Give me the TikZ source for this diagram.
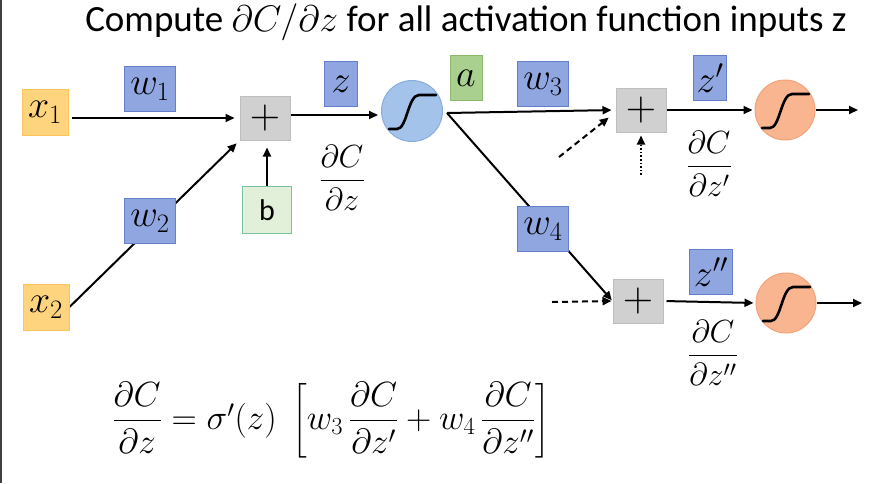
\RequirePackage{fix-cm}
\documentclass[tikz,border=0pt]{standalone}
\usepackage{amsmath}
\usepackage[no-math]{fontspec}
\setmainfont{Carlito}
\usetikzlibrary{arrows.meta,calc,backgrounds}
\definecolor{xfill}{RGB}{255,212,126}
\definecolor{xdraw}{RGB}{252,196,90}
\definecolor{wfill}{RGB}{143,166,224}
\definecolor{wdraw}{RGB}{100,128,205}
\definecolor{pfill}{RGB}{208,208,208}
\definecolor{pdraw}{RGB}{190,190,190}
\definecolor{bfill}{RGB}{226,240,217}
\definecolor{bdraw}{RGB}{120,196,156}
\definecolor{afill}{RGB}{169,208,142}
\definecolor{adraw}{RGB}{140,184,110}
\definecolor{sbfill}{RGB}{164,195,234}
\definecolor{sbdraw}{RGB}{135,172,222}
\definecolor{sofill}{RGB}{249,180,144}
\definecolor{sodraw}{RGB}{244,163,120}
\tikzset{
  mathbig/.style={font=\fontsize{38}{40}\selectfont},
  xbox/.style={draw=xdraw, fill=xfill, line width=1pt, minimum width=46pt, minimum height=46pt, inner sep=0pt, mathbig},
  wbox/.style={draw=wdraw, fill=wfill, line width=1pt, minimum width=51pt, minimum height=45pt, inner sep=0pt, mathbig},
  zbox/.style={draw=wdraw, fill=wfill, line width=1pt, minimum width=33pt, minimum height=45pt, inner sep=0pt, mathbig},
  plusbox/.style={draw=pdraw, fill=pfill, line width=1pt, minimum width=50pt, minimum height=44pt, inner sep=0pt, font=\fontsize{42}{44}\selectfont},
  bbox/.style={draw=bdraw, fill=bfill, line width=1pt, minimum width=49pt, minimum height=47pt, inner sep=0pt, font=\fontsize{30}{32}\selectfont},
  abox/.style={draw=adraw, fill=afill, line width=1pt, minimum width=32pt, minimum height=45pt, inner sep=0pt, mathbig},
  sigblue/.style={circle, draw=sbdraw, fill=sbfill, line width=1pt, minimum size=61pt, inner sep=0pt},
  sigorange/.style={circle, draw=sodraw, fill=sofill, line width=1pt, minimum size=60pt, inner sep=0pt},
  frac/.style={font=\fontsize{32}{36}\selectfont, inner sep=0pt},
  arr/.style={-{Triangle[length=9pt,width=8pt]}, line width=2pt},
  dash6/.style={dash pattern=on 6pt off 4pt},
  dot2/.style={line width=1.8pt, dash pattern=on 1.6pt off 2pt},
  sigline/.style={line width=2.6pt, line cap=round},
  pics/sigm/.style={code={
    \draw[sigline] (-23,18) -- (-15,18) .. controls (-5,18) and (-4,-16) .. (7,-16) -- (24,-16);
  }}
}
\begin{document}
\begin{tikzpicture}[x=1pt,y=-1pt]
\useasboundingbox (0,0) rectangle (879,483);
\fill[black!75] (0,0) rectangle (2,483);
% title
\node[font=\fontsize{37}{40}\selectfont, anchor=base, inner sep=0pt] (title) at (466,31) {Compute $\partial C/\partial z$ for all activation function inputs z};
% left layer
\node[xbox] (x1) at (45,112) {$x_1$};
\node[xbox] (x2) at (46,307) {$x_2$};
\node[wbox] (w1) at (150,89) {$w_1$};
\node[wbox] (w2) at (150,221) {$w_2$};
\node[plusbox] (p1) at (265,118) {$+$};
\node[bbox] (b) at (267,210) {b};
\node[zbox] (z) at (341,84) {$z$};
\node[frac] (f1) at (342,178) {$\dfrac{\partial C}{\partial z}$};
\node[sigblue] (s1) at (412,111) {};
\pic at (s1.center) {sigm};
\coordinate (o) at (447,113);
\node[abox] (a) at (466,78) {$a$};
% upper right
\node[wbox] (w3) at (543,84) {$w_3$};
\node[plusbox] (p2) at (641,110) {$+$};
\node[zbox] (z1) at (710,78) {$z'$};
\node[frac] (f2) at (709,164) {$\dfrac{\partial C}{\partial z'}$};
\node[sigorange] (s2) at (785,110) {};
\pic at (s2.center) {sigm};
\coordinate (e2) at (858,110);
\coordinate (d2) at (559,157);
\coordinate (d3) at (641,175);
% lower right
\node[wbox] (w4) at (543,229) {$w_4$};
\node[plusbox] (p3) at (638,301) {$+$};
\node[zbox, minimum width=43pt] (z2) at (711,272) {$z''$};
\node[frac] (f3) at (713,353) {$\dfrac{\partial C}{\partial z''}$};
\node[sigorange] (s3) at (786,303) {};
\pic at (s3.center) {sigm};
\coordinate (e3) at (862,303);
\coordinate (d4) at (552,302);
% formula
\node[frac, font=\fontsize{35}{38}\selectfont] (eq) at (331,420) {$\dfrac{\partial C}{\partial z}=\sigma'(z)\;\left[w_3\,\dfrac{\partial C}{\partial z'}+w_4\,\dfrac{\partial C}{\partial z''}\right]$};
% connectors
\begin{scope}[on background layer]
\draw[arr, shorten <=3pt, shorten >=5pt] (x1.east |- p1.west) -- (p1.west);
\draw[arr, shorten >=4pt] (x2.east) -- (p1.south west);
\draw[arr, shorten >=7pt] (b.north) -- (b.north |- p1.south);
\draw[arr, shorten >=3pt] ($(p1.east)+(0,-3)$) -- ($(p1.east -| s1.west)+(0,-3)$);
\draw[arr, shorten >=4pt] (o) -- (p2.west);
\draw[arr, shorten >=1pt] (o) -- (p3.west);
\draw[arr, dash6, shorten >=1pt] (d2) -- ($(p2.west)+(-6,7)$);
\draw[arr, dot2, shorten >=3pt] (d3) -- (p2.south);
\draw[arr, dash6, shorten >=1pt] (d4) -- (p3.west);
\draw[arr, shorten >=2pt] (p2.east) -- (s2.west);
\draw[arr] (s2.east) -- (e2);
\draw[arr, shorten <=3pt, shorten >=2pt] (p3.east) -- (s3.west);
\draw[arr] (s3.east) -- (e3);
\end{scope}
\end{tikzpicture}
\end{document}
